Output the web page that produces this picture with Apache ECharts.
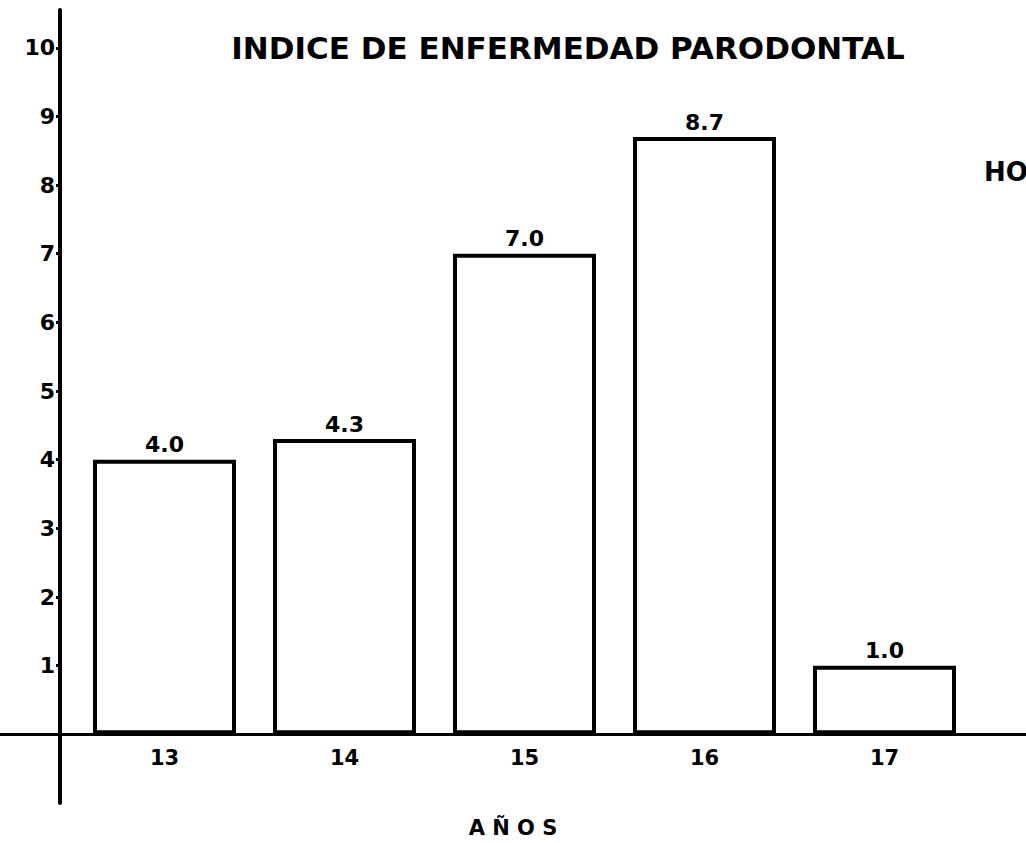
<!DOCTYPE html>
<html>
<head>
<meta charset="utf-8">
<script src="https://cdn.jsdelivr.net/npm/echarts@6/dist/echarts.min.js"></script>
<style>html,body{margin:0;padding:0;background:#fff;}#c{width:1026px;height:843px;}</style>
</head>
<body>
<div id="c"></div>
<script>
const categories = [13, 14, 15, 16, 17];
const values = [4.0, 4.3, 7.0, 8.7, 1.0];
const valueLabels = ['4.0', '4.3', '7.0', '8.7', '1.0'];
const yTicks = [1, 2, 3, 4, 5, 6, 7, 8, 9, 10];
const titleText = 'INDICE DE ENFERMEDAD PARODONTAL';
const sideText = 'HOMBRES';
const xName = 'A Ñ O S';

const font = 'DejaVu Sans';
const chart = echarts.init(document.getElementById('c'), null, {renderer: 'svg'});
chart.setOption({
  animation: false,
  backgroundColor: '#fff',
  grid: {left: 0, right: 0, top: 10, bottom: 40, outerBoundsMode: 'none'},
  graphic: [
    {type: 'text', x: 568, y: 48, style: {text: titleText, font: 'bold 31px "' + font + '"', fill: '#000', align: 'center', verticalAlign: 'middle'}},
    {type: 'text', x: 984, y: 172, style: {text: sideText, font: 'bold 26px "' + font + '"', fill: '#000', align: 'left', verticalAlign: 'middle'}}
  ],
  xAxis: {
    type: 'value',
    min: 13 - 164.5 / 180,
    max: 13 - 164.5 / 180 + 1026 / 180,
    axisLine: {onZero: true, lineStyle: {color: '#000', width: 3}},
    axisTick: {show: false},
    splitLine: {show: false},
    axisLabel: {customValues: categories, color: '#000', fontFamily: font, fontWeight: 'bold', fontSize: 21, margin: -56},
    name: xName,
    nameLocation: 'middle',
    nameGap: 14,
    nameTextStyle: {color: '#000', fontFamily: font, fontWeight: 'bold', fontSize: 21}
  },
  yAxis: {
    type: 'value',
    min: -1,
    max: 10.55,
    position: 'left',
    offset: -60,
    axisLine: {onZero: false, lineStyle: {color: '#000', width: 4}},
    axisTick: {customValues: yTicks, length: 4, lineStyle: {color: '#000', width: 3}},
    splitLine: {show: false},
    axisLabel: {customValues: yTicks, color: '#000', fontFamily: font, fontWeight: 'bold', fontSize: 22, margin: 5}
  },
  series: [{
    type: 'bar',
    data: categories.map((c, i) => [c, values[i]]),
    barWidth: 143,
    itemStyle: {color: '#fff', borderColor: '#000', borderWidth: 4},
    label: {
      show: true, position: 'top', distance: 4,
      formatter: p => valueLabels[p.dataIndex],
      color: '#000', fontFamily: font, fontWeight: 'bold', fontSize: 22
    }
  }]
});
</script>
</body>
</html>
